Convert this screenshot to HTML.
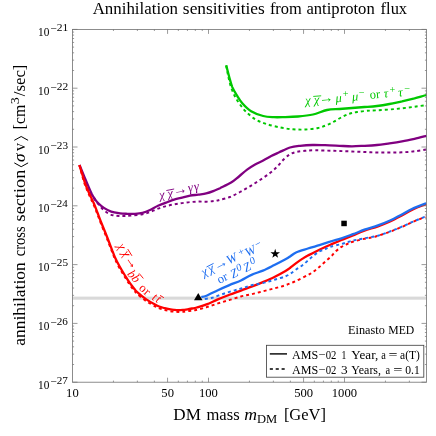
<!DOCTYPE html>
<html><head><meta charset="utf-8"><style>html,body{margin:0;padding:0;background:#fff}svg{display:block;will-change:transform}text{font-family:"Liberation Serif",serif;fill:#000}.i{font-style:italic}</style></head><body>
<svg width="436" height="436" viewBox="0 0 436 436">
<rect width="436" height="436" fill="#fff"/>
<rect x="72.5" y="296.6" width="354.0" height="3.1" fill="#d9d9d9"/>
<path d="M226.2 65.4C226.4 66.7 227.1 70.5 227.6 73.0C228.1 75.5 228.5 77.9 229.2 80.5C229.8 83.1 230.5 85.8 231.5 88.5C232.5 91.2 233.7 94.0 235.0 96.5C236.3 99.0 237.3 100.8 239.1 103.2C240.8 105.7 242.8 108.5 245.5 111.2C248.2 113.9 251.6 117.1 255.1 119.2C258.6 121.3 262.2 122.6 266.4 124.0C270.6 125.4 276.1 126.6 280.5 127.5C284.9 128.4 288.8 129.0 293.0 129.3C297.2 129.6 301.3 129.7 305.5 129.5C309.7 129.3 314.4 128.8 318.0 128.0C321.6 127.2 324.2 126.1 327.0 125.0C329.8 123.9 332.0 122.6 334.5 121.3C337.0 120.0 339.5 118.2 342.0 117.0C344.5 115.8 347.0 114.6 349.5 113.8C352.0 113.0 354.1 112.5 357.0 112.0C359.9 111.5 363.7 111.1 367.0 110.8C370.3 110.5 373.2 110.5 377.0 110.3C380.8 110.1 385.3 109.8 389.5 109.5C393.7 109.2 397.8 108.8 402.0 108.3C406.2 107.8 410.4 107.3 414.5 106.8C418.6 106.2 424.5 105.3 426.5 105.0" fill="none" stroke="#00c800" stroke-width="1.95" stroke-dasharray="3 3" stroke-dashoffset="0"/>
<path d="M226.2 65.4C226.5 66.5 227.4 69.9 228.0 72.2C228.6 74.5 229.1 76.6 229.8 79.1C230.5 81.6 231.2 84.4 232.3 87.1C233.5 89.8 235.0 92.4 236.7 95.1C238.4 97.8 239.9 100.5 242.3 103.2C244.7 105.9 247.6 109.1 251.1 111.2C254.6 113.3 259.4 115.0 263.2 116.0C267.0 117.0 270.4 117.0 274.0 117.2C277.6 117.4 281.0 117.2 285.0 117.1C289.0 117.0 293.3 116.9 298.0 116.5C302.7 116.1 308.2 115.6 313.0 114.5C317.8 113.4 322.6 110.9 327.0 110.0C331.4 109.1 335.3 109.3 339.5 109.0C343.7 108.7 347.8 108.3 352.0 108.0C356.2 107.7 360.3 107.3 364.5 107.0C368.7 106.7 372.8 106.5 377.0 106.0C381.2 105.5 385.3 104.8 389.5 104.0C393.7 103.2 397.8 102.2 402.0 101.3C406.2 100.3 410.4 99.3 414.5 98.3C418.6 97.2 424.5 95.5 426.5 95.0" fill="none" stroke="#00c800" stroke-width="2.3"/>
<path d="M79.5 165.0C80.4 167.6 83.2 176.0 85.0 180.5C86.8 185.0 88.3 188.5 90.0 191.8C91.7 195.1 93.6 197.9 95.1 200.1C96.6 202.2 97.6 203.2 98.8 204.7C100.0 206.2 101.0 207.6 102.5 209.0C104.0 210.4 105.8 211.9 107.5 213.0C109.2 214.1 111.1 214.8 113.0 215.3C114.9 215.8 117.0 215.9 119.0 216.0C121.0 216.1 122.8 216.1 125.0 216.0C127.2 215.9 129.6 215.8 132.5 215.5C135.4 215.2 139.6 214.9 142.5 214.3C145.4 213.7 147.4 213.1 150.0 212.1C152.6 211.1 155.3 209.6 158.0 208.6C160.7 207.6 163.4 206.8 166.1 206.1C168.8 205.4 171.4 204.9 174.1 204.4C176.8 203.9 179.4 203.5 182.1 203.1C184.8 202.7 187.4 202.3 190.1 202.1C192.8 201.8 195.5 201.7 198.2 201.6C200.9 201.5 203.5 201.8 206.2 201.7C208.9 201.6 211.9 201.3 214.2 201.0C216.5 200.7 217.4 200.5 220.0 199.8C222.6 199.1 226.7 198.3 230.0 197.0C233.3 195.7 236.7 193.8 240.0 192.0C243.3 190.2 246.7 188.3 250.0 186.3C253.3 184.3 256.7 182.2 260.0 180.0C263.3 177.8 267.1 175.3 270.0 173.0C272.9 170.7 275.2 168.6 277.5 166.3C279.8 164.0 281.7 161.3 283.8 159.3C285.9 157.3 287.9 155.5 290.0 154.3C292.1 153.1 293.8 152.6 296.3 152.0C298.8 151.4 301.9 151.1 305.0 150.8C308.1 150.5 311.2 150.3 315.0 150.3C318.8 150.3 323.4 150.5 327.5 150.6C331.6 150.7 335.4 150.8 339.5 151.0C343.6 151.2 347.8 151.3 352.0 151.5C356.2 151.7 360.3 151.8 364.5 152.0C368.7 152.2 372.8 152.4 377.0 152.5C381.2 152.6 385.3 152.5 389.5 152.5C393.7 152.5 397.8 152.5 402.0 152.3C406.2 152.1 410.4 151.8 414.5 151.3C418.6 150.8 424.5 149.8 426.5 149.5" fill="none" stroke="#800080" stroke-width="1.95" stroke-dasharray="3 3" stroke-dashoffset="0"/>
<path d="M79.5 165.0C80.2 166.7 82.2 171.7 83.6 175.0C85.0 178.3 86.4 181.8 87.8 185.0C89.2 188.2 90.8 191.9 91.9 194.2C93.1 196.5 93.6 197.3 94.7 198.8C95.8 200.3 96.8 201.8 98.3 203.3C99.8 204.8 101.8 206.5 103.9 207.9C106.1 209.3 108.5 210.7 111.2 211.6C113.9 212.5 117.3 212.9 120.0 213.3C122.7 213.7 125.0 213.7 127.5 213.8C130.0 213.9 132.5 214.0 135.0 213.8C137.5 213.6 140.0 213.4 142.5 212.8C145.0 212.2 147.4 211.2 150.0 210.0C152.6 208.8 155.3 207.0 158.0 205.8C160.7 204.6 163.4 203.6 166.1 202.6C168.8 201.6 171.4 200.5 174.1 199.7C176.8 198.9 179.4 198.3 182.1 197.6C184.8 196.9 187.4 196.2 190.1 195.7C192.8 195.2 195.5 195.0 198.2 194.6C200.9 194.2 203.5 194.1 206.2 193.4C208.9 192.8 211.9 191.6 214.2 190.7C216.5 189.8 217.2 189.5 220.0 188.2C222.8 186.8 227.9 184.5 231.1 182.6C234.3 180.7 236.3 178.7 239.0 176.5C241.7 174.3 244.4 171.7 247.1 169.7C249.8 167.7 252.4 166.0 255.1 164.5C257.8 163.0 260.5 161.9 263.2 160.5C265.9 159.1 268.5 157.4 271.2 156.0C273.9 154.6 276.1 153.7 279.2 152.3C282.3 150.9 286.5 148.6 290.0 147.5C293.5 146.4 296.2 146.2 300.0 145.8C303.8 145.4 308.3 145.1 312.5 145.0C316.7 144.9 320.5 145.1 325.0 145.2C329.5 145.3 335.0 145.6 339.5 145.8C344.0 146.0 347.8 146.3 352.0 146.3C356.2 146.3 360.3 146.0 364.5 145.8C368.7 145.6 372.8 145.4 377.0 145.0C381.2 144.6 385.3 143.9 389.5 143.3C393.7 142.7 397.8 142.1 402.0 141.3C406.2 140.6 410.4 139.7 414.5 138.8C418.6 137.9 424.5 136.3 426.5 135.8" fill="none" stroke="#800080" stroke-width="2.3"/>
<path d="M79.4 165.2C79.9 167.1 81.5 173.2 82.5 176.8C83.5 180.4 84.5 183.6 85.7 186.8C86.9 190.0 88.2 192.9 89.6 196.0C90.9 199.1 92.5 202.1 93.8 205.1C95.1 208.2 96.2 211.2 97.4 214.3C98.6 217.4 99.5 220.0 100.9 223.5C102.3 227.0 104.2 231.6 105.6 235.1C107.0 238.6 108.1 241.4 109.2 244.3C110.3 247.2 111.5 250.4 112.4 252.8C113.4 255.2 113.7 256.4 114.9 259.0C116.1 261.6 117.8 265.1 119.5 268.1C121.2 271.2 123.3 274.6 125.0 277.3C126.7 280.0 128.1 282.3 129.6 284.5C131.1 286.7 132.9 288.9 134.2 290.5C135.5 292.1 135.2 292.2 137.2 294.0C139.2 295.8 143.2 299.1 146.3 301.2C149.4 303.3 153.2 305.4 155.5 306.6C157.8 307.8 158.5 308.0 160.0 308.6C161.5 309.2 163.2 309.6 164.7 310.0C166.2 310.4 167.6 310.7 169.2 311.0C170.8 311.3 172.5 311.5 174.0 311.7C175.5 311.9 176.8 311.9 178.3 311.9C179.8 311.9 181.5 311.8 183.0 311.7C184.5 311.6 185.5 311.4 187.5 311.1C189.5 310.9 191.8 310.9 195.0 310.2C198.2 309.5 202.7 308.3 206.5 307.2C210.3 306.1 214.1 304.6 217.9 303.4C221.7 302.2 225.6 301.1 229.4 300.0C233.2 298.9 237.2 297.5 240.9 296.5C244.6 295.5 247.8 295.1 251.5 294.2C255.2 293.3 259.1 292.3 262.9 291.3C266.7 290.3 270.6 289.4 274.4 288.4C278.2 287.4 281.8 286.5 285.5 285.2C289.2 283.9 292.8 282.4 296.5 280.7C300.2 279.0 305.0 276.5 307.9 275.0C310.8 273.5 311.8 272.9 313.7 271.5C315.6 270.1 317.5 268.5 319.4 266.9C321.3 265.3 323.2 263.5 325.1 261.8C327.0 260.1 329.1 258.3 330.9 256.6C332.7 254.9 333.9 253.0 335.7 251.4C337.5 249.8 339.6 248.1 341.5 246.9C343.4 245.7 345.3 244.9 347.2 244.0C349.1 243.1 350.0 242.6 352.9 241.7C355.8 240.8 360.7 239.6 364.4 238.8C368.1 238.0 370.8 237.8 375.0 236.7C379.2 235.5 385.2 233.5 389.5 231.9C393.8 230.3 397.1 228.9 400.9 227.3C404.7 225.7 408.3 223.8 412.4 222.1C416.5 220.3 423.2 217.7 425.4 216.8" fill="none" stroke="#ff0000" stroke-width="1.95" stroke-dasharray="3 3" stroke-dashoffset="0"/>
<path d="M79.4 165.2C79.9 166.8 81.5 171.7 82.5 175.0C83.5 178.3 84.5 181.8 85.7 185.0C86.9 188.2 88.2 191.1 89.6 194.2C90.9 197.2 92.5 200.2 93.8 203.3C95.1 206.4 96.2 209.4 97.4 212.5C98.6 215.6 99.5 218.2 100.9 221.7C102.3 225.2 104.2 229.8 105.6 233.3C107.0 236.8 108.1 239.6 109.2 242.5C110.3 245.4 111.5 248.6 112.4 251.0C113.4 253.4 113.7 254.6 114.9 257.2C116.1 259.8 117.8 263.2 119.5 266.3C121.2 269.4 123.3 272.8 125.0 275.5C126.7 278.2 128.1 280.5 129.6 282.7C131.1 284.9 132.9 287.1 134.2 288.7C135.5 290.3 135.2 290.4 137.2 292.2C139.2 294.0 143.2 297.3 146.3 299.4C149.4 301.5 153.2 303.6 155.5 304.8C157.8 306.0 158.5 306.2 160.0 306.8C161.5 307.4 163.2 307.8 164.7 308.2C166.2 308.6 167.6 308.9 169.2 309.2C170.8 309.5 172.5 309.8 174.0 309.9C175.5 310.0 176.8 310.1 178.3 310.1C179.8 310.1 181.5 310.0 183.0 309.9C184.5 309.8 186.0 309.5 187.5 309.3C189.0 309.1 190.5 308.8 192.0 308.5C193.5 308.2 194.3 308.2 196.7 307.5C199.1 306.8 203.0 305.8 206.5 304.4C210.0 303.0 214.1 301.0 217.9 299.4C221.7 297.8 225.6 296.3 229.4 294.8C233.2 293.3 237.2 292.0 240.9 290.6C244.6 289.2 247.8 288.1 251.5 286.7C255.2 285.3 259.1 283.7 262.9 282.1C266.7 280.5 270.6 278.9 274.4 277.0C278.2 275.1 282.9 272.5 285.5 271.0C288.1 269.5 288.2 269.4 290.0 268.0C291.8 266.6 294.5 264.4 296.5 262.9C298.5 261.4 300.3 260.1 302.2 258.9C304.1 257.7 305.0 257.0 307.9 255.5C310.8 254.0 315.6 251.5 319.4 249.7C323.2 247.9 327.2 246.1 330.9 244.5C334.6 242.9 337.8 241.5 341.5 240.0C345.2 238.5 349.1 237.0 352.9 235.4C356.7 233.8 360.2 232.1 364.4 230.6C368.6 229.1 373.8 227.8 378.0 226.3C382.2 224.8 385.7 223.4 389.5 221.7C393.3 220.0 397.1 218.0 400.9 216.0C404.7 214.0 408.2 211.7 412.4 209.7C416.6 207.7 423.9 205.0 426.2 204.1" fill="none" stroke="#ff0000" stroke-width="2.3"/>
<path d="M201.9 299.4C203.6 299.1 208.6 298.6 212.2 297.7C215.8 296.8 219.9 294.9 223.7 293.7C227.5 292.4 231.9 291.1 235.1 290.2C238.3 289.2 240.3 288.8 243.0 288.0C245.7 287.2 248.2 286.0 251.5 285.2C254.8 284.4 259.1 284.0 262.9 283.1C266.7 282.2 270.6 280.9 274.4 279.8C278.2 278.7 282.8 277.4 285.5 276.3C288.2 275.2 288.9 274.7 290.7 273.5C292.5 272.3 294.6 270.5 296.5 269.2C298.4 267.9 300.3 266.9 302.2 265.5C304.1 264.1 306.0 262.3 307.9 260.6C309.8 258.9 311.8 257.0 313.7 255.5C315.6 254.0 317.5 252.6 319.4 251.5C321.3 250.4 323.3 250.0 325.1 249.2C326.9 248.4 327.3 247.8 330.0 246.9C332.7 246.0 337.7 245.1 341.5 244.0C345.3 242.9 349.1 241.5 352.9 240.6C356.7 239.7 360.2 239.1 364.4 238.3C368.6 237.5 373.8 236.8 378.0 235.7C382.2 234.6 385.7 233.1 389.5 231.7C393.3 230.3 397.1 228.7 400.9 227.1C404.7 225.5 408.3 223.7 412.4 221.9C416.5 220.2 423.2 217.5 425.4 216.6" fill="none" stroke="#1e6ef0" stroke-width="1.95" stroke-dasharray="3 3" stroke-dashoffset="3"/>
<path d="M201.3 297.1C202.2 296.9 203.7 296.9 206.5 295.7C209.3 294.5 214.1 292.0 217.9 290.2C221.7 288.4 225.6 286.7 229.4 285.1C233.2 283.5 237.2 282.2 240.9 280.5C244.6 278.8 247.8 276.5 251.5 274.9C255.2 273.2 259.1 272.2 262.9 270.6C266.7 269.0 270.6 266.9 274.4 265.0C278.2 263.1 282.9 260.6 285.5 259.2C288.1 257.8 288.2 257.7 290.0 256.5C291.8 255.3 293.5 253.5 296.5 252.2C299.5 250.9 304.1 249.7 307.9 248.5C311.7 247.3 315.7 246.3 319.4 245.2C323.1 244.1 326.3 242.8 330.0 241.7C333.7 240.5 337.7 239.6 341.5 238.3C345.3 237.1 349.1 235.6 352.9 234.2C356.7 232.8 360.2 231.2 364.4 229.7C368.6 228.2 373.8 226.9 378.0 225.4C382.2 223.9 385.7 222.5 389.5 220.8C393.3 219.1 397.1 217.1 400.9 215.1C404.7 213.1 408.2 210.8 412.4 208.8C416.6 206.8 423.9 204.2 426.2 203.3" fill="none" stroke="#1e6ef0" stroke-width="2.3"/>
<polygon points="194,300.3 202.5,300.3 198.25,293.1" fill="#000"/>
<rect x="341.3" y="220.7" width="5.5" height="5.5" fill="#000"/>
<polygon points="275.2,248.8 276.3,252.2 280.0,252.3 277.1,254.4 278.1,257.8 275.2,255.8 272.3,257.8 273.3,254.4 270.4,252.3 274.1,252.2" fill="#000"/>
<path d="M72.5 382.20h5M426.5 382.20h-5M72.5 364.50h1.6M426.5 364.50h-1.6M72.5 354.15h1.6M426.5 354.15h-1.6M72.5 346.80h1.6M426.5 346.80h-1.6M72.5 341.10h1.6M426.5 341.10h-1.6M72.5 336.44h1.6M426.5 336.44h-1.6M72.5 332.51h1.6M426.5 332.51h-1.6M72.5 329.10h1.6M426.5 329.10h-1.6M72.5 326.09h1.6M426.5 326.09h-1.6M72.5 323.40h5M426.5 323.40h-5M72.5 305.70h1.6M426.5 305.70h-1.6M72.5 295.35h1.6M426.5 295.35h-1.6M72.5 288.00h1.6M426.5 288.00h-1.6M72.5 282.30h1.6M426.5 282.30h-1.6M72.5 277.64h1.6M426.5 277.64h-1.6M72.5 273.71h1.6M426.5 273.71h-1.6M72.5 270.30h1.6M426.5 270.30h-1.6M72.5 267.29h1.6M426.5 267.29h-1.6M72.5 264.60h5M426.5 264.60h-5M72.5 246.90h1.6M426.5 246.90h-1.6M72.5 236.55h1.6M426.5 236.55h-1.6M72.5 229.20h1.6M426.5 229.20h-1.6M72.5 223.50h1.6M426.5 223.50h-1.6M72.5 218.84h1.6M426.5 218.84h-1.6M72.5 214.91h1.6M426.5 214.91h-1.6M72.5 211.50h1.6M426.5 211.50h-1.6M72.5 208.49h1.6M426.5 208.49h-1.6M72.5 205.80h5M426.5 205.80h-5M72.5 188.10h1.6M426.5 188.10h-1.6M72.5 177.75h1.6M426.5 177.75h-1.6M72.5 170.40h1.6M426.5 170.40h-1.6M72.5 164.70h1.6M426.5 164.70h-1.6M72.5 160.04h1.6M426.5 160.04h-1.6M72.5 156.11h1.6M426.5 156.11h-1.6M72.5 152.70h1.6M426.5 152.70h-1.6M72.5 149.69h1.6M426.5 149.69h-1.6M72.5 147.00h5M426.5 147.00h-5M72.5 129.30h1.6M426.5 129.30h-1.6M72.5 118.95h1.6M426.5 118.95h-1.6M72.5 111.60h1.6M426.5 111.60h-1.6M72.5 105.90h1.6M426.5 105.90h-1.6M72.5 101.24h1.6M426.5 101.24h-1.6M72.5 97.31h1.6M426.5 97.31h-1.6M72.5 93.90h1.6M426.5 93.90h-1.6M72.5 90.89h1.6M426.5 90.89h-1.6M72.5 88.20h5M426.5 88.20h-5M72.5 70.50h1.6M426.5 70.50h-1.6M72.5 60.15h1.6M426.5 60.15h-1.6M72.5 52.80h1.6M426.5 52.80h-1.6M72.5 47.10h1.6M426.5 47.10h-1.6M72.5 42.44h1.6M426.5 42.44h-1.6M72.5 38.51h1.6M426.5 38.51h-1.6M72.5 35.10h1.6M426.5 35.10h-1.6M72.5 32.09h1.6M426.5 32.09h-1.6M72.5 29.40h5M426.5 29.40h-5M167.56 382.2v-4.5M167.56 29.4v4.5M208.50 382.2v-4.5M208.50 29.4v4.5M303.56 382.2v-4.5M303.56 29.4v4.5M344.50 382.2v-4.5M344.50 29.4v4.5M113.44 382.2v-1.6M113.44 29.4v1.6M137.39 382.2v-1.6M137.39 29.4v1.6M154.38 382.2v-1.6M154.38 29.4v1.6M178.33 382.2v-1.6M178.33 29.4v1.6M187.43 382.2v-1.6M187.43 29.4v1.6M195.32 382.2v-1.6M195.32 29.4v1.6M202.28 382.2v-1.6M202.28 29.4v1.6M249.44 382.2v-1.6M249.44 29.4v1.6M273.39 382.2v-1.6M273.39 29.4v1.6M290.38 382.2v-1.6M290.38 29.4v1.6M314.33 382.2v-1.6M314.33 29.4v1.6M323.43 382.2v-1.6M323.43 29.4v1.6M331.32 382.2v-1.6M331.32 29.4v1.6M338.28 382.2v-1.6M338.28 29.4v1.6M385.44 382.2v-1.6M385.44 29.4v1.6M409.39 382.2v-1.6M409.39 29.4v1.6" stroke="#707070" stroke-width="0.7" fill="none"/>
<rect x="72.5" y="29.4" width="354.0" height="352.8" fill="none" stroke="#707070" stroke-width="0.8"/>
<text x="38.00" y="388.80" font-size="12.4" textLength="11.33" lengthAdjust="spacingAndGlyphs">10</text>
<text x="50.33" y="384.50" font-size="10.8" textLength="6.42" lengthAdjust="spacingAndGlyphs">−</text>
<text x="56.81" y="383.80" font-size="10.8" textLength="11.11" lengthAdjust="spacingAndGlyphs">27</text>
<text x="38.00" y="330.00" font-size="12.4" textLength="11.33" lengthAdjust="spacingAndGlyphs">10</text>
<text x="50.33" y="325.70" font-size="10.8" textLength="6.42" lengthAdjust="spacingAndGlyphs">−</text>
<text x="56.81" y="325.00" font-size="10.8" textLength="11.12" lengthAdjust="spacingAndGlyphs">26</text>
<text x="38.00" y="271.20" font-size="12.4" textLength="11.33" lengthAdjust="spacingAndGlyphs">10</text>
<text x="50.33" y="266.90" font-size="10.8" textLength="6.42" lengthAdjust="spacingAndGlyphs">−</text>
<text x="56.81" y="266.20" font-size="10.8" textLength="11.23" lengthAdjust="spacingAndGlyphs">25</text>
<text x="38.00" y="212.40" font-size="12.4" textLength="11.33" lengthAdjust="spacingAndGlyphs">10</text>
<text x="50.33" y="208.10" font-size="10.8" textLength="6.42" lengthAdjust="spacingAndGlyphs">−</text>
<text x="56.82" y="207.40" font-size="10.8" textLength="10.95" lengthAdjust="spacingAndGlyphs">24</text>
<text x="38.00" y="153.60" font-size="12.4" textLength="11.33" lengthAdjust="spacingAndGlyphs">10</text>
<text x="50.33" y="149.30" font-size="10.8" textLength="6.42" lengthAdjust="spacingAndGlyphs">−</text>
<text x="56.81" y="148.60" font-size="10.8" textLength="11.23" lengthAdjust="spacingAndGlyphs">23</text>
<text x="38.00" y="94.80" font-size="12.4" textLength="11.33" lengthAdjust="spacingAndGlyphs">10</text>
<text x="50.33" y="90.50" font-size="10.8" textLength="6.42" lengthAdjust="spacingAndGlyphs">−</text>
<text x="56.80" y="89.80" font-size="10.8" textLength="11.43" lengthAdjust="spacingAndGlyphs">22</text>
<text x="38.00" y="36.00" font-size="12.4" textLength="11.33" lengthAdjust="spacingAndGlyphs">10</text>
<text x="50.33" y="31.70" font-size="10.8" textLength="6.42" lengthAdjust="spacingAndGlyphs">−</text>
<text x="56.79" y="31.00" font-size="10.8" textLength="11.50" lengthAdjust="spacingAndGlyphs">21</text>
<text x="66.09" y="396.80" font-size="12.6" textLength="12.60" lengthAdjust="spacingAndGlyphs">10</text>
<text x="161.33" y="396.80" font-size="12.6" textLength="12.60" lengthAdjust="spacingAndGlyphs">50</text>
<text x="198.94" y="396.80" font-size="12.6" textLength="18.90" lengthAdjust="spacingAndGlyphs">100</text>
<text x="294.18" y="396.80" font-size="12.6" textLength="18.90" lengthAdjust="spacingAndGlyphs">500</text>
<text x="331.79" y="396.80" font-size="12.6" textLength="25.20" lengthAdjust="spacingAndGlyphs">1000</text>
<text x="92.63" y="13.60" font-size="17" textLength="85.42" lengthAdjust="spacingAndGlyphs">Annihilation</text>
<text x="182.89" y="13.60" font-size="17" textLength="81.94" lengthAdjust="spacingAndGlyphs">sensitivities</text>
<text x="269.89" y="13.60" font-size="17" textLength="31.96" lengthAdjust="spacingAndGlyphs">from</text>
<text x="306.42" y="13.60" font-size="17" textLength="68.34" lengthAdjust="spacingAndGlyphs">antiproton</text>
<text x="380.59" y="13.60" font-size="17" textLength="26.51" lengthAdjust="spacingAndGlyphs">flux</text>
<text x="173.31" y="419.60" font-size="17" textLength="27.60" lengthAdjust="spacingAndGlyphs">DM</text>
<text x="206.45" y="419.60" font-size="17" textLength="33.15" lengthAdjust="spacingAndGlyphs">mass</text>
<text x="244.26" y="419.60" font-size="17" textLength="12.78" lengthAdjust="spacingAndGlyphs" class="i">m</text>
<text x="257.04" y="422.80" font-size="12" textLength="20.23" lengthAdjust="spacingAndGlyphs">DM</text>
<text x="283.88" y="419.60" font-size="17" textLength="42.15" lengthAdjust="spacingAndGlyphs">[GeV]</text>
<text transform="translate(25.40,345.82) rotate(-90)" font-size="17" textLength="83.68" lengthAdjust="spacingAndGlyphs">annihilation</text>
<text transform="translate(25.40,256.15) rotate(-90)" font-size="17" textLength="29.67" lengthAdjust="spacingAndGlyphs">cross</text>
<text transform="translate(25.40,221.45) rotate(-90)" font-size="17" textLength="51.73" lengthAdjust="spacingAndGlyphs">section</text>
<path d="M14.3 162.9L21.2 166.7L28.1 162.9M14.3 140.3L21.2 136.5L28.1 140.3" fill="none" stroke="#000" stroke-width="1"/>
<text transform="translate(25.40,162.01) rotate(-90)" font-size="17" textLength="8.47" lengthAdjust="spacingAndGlyphs" class="i">σ</text>
<text transform="translate(25.40,151.00) rotate(-90)" font-size="17" textLength="8.00" lengthAdjust="spacingAndGlyphs">v</text>
<text transform="translate(25.40,129.38) rotate(-90)" font-size="17" textLength="24.62" lengthAdjust="spacingAndGlyphs">[cm</text>
<text transform="translate(18.90,104.27) rotate(-90)" font-size="12" textLength="7.02" lengthAdjust="spacingAndGlyphs">3</text>
<text transform="translate(25.40,96.20) rotate(-90)" font-size="17" textLength="31.64" lengthAdjust="spacingAndGlyphs">/sec]</text>
<text x="348.05" y="334.10" font-size="12.2" textLength="36.72" lengthAdjust="spacingAndGlyphs">Einasto</text>
<text x="388.26" y="334.10" font-size="12.2" textLength="26.01" lengthAdjust="spacingAndGlyphs">MED</text>
<rect x="266.5" y="345.3" width="157.3" height="31.9" fill="#fff" stroke="#444" stroke-width="0.85"/>
<path d="M269.8 353.9H287" stroke="#000" stroke-width="1.4"/>
<path d="M269.8 368.9H287" stroke="#000" stroke-width="1.5" stroke-dasharray="3.1 2.8"/>
<text x="291.88" y="358.80" font-size="12.2" textLength="26.27" lengthAdjust="spacingAndGlyphs">AMS</text>
<text x="318.78" y="358.80" font-size="12.2" textLength="7.03" lengthAdjust="spacingAndGlyphs">−</text>
<text x="325.69" y="358.80" font-size="12.2" textLength="10.70" lengthAdjust="spacingAndGlyphs">02</text>
<text x="341.45" y="358.80" font-size="12.2" textLength="4.83" lengthAdjust="spacingAndGlyphs">1</text>
<text x="351.36" y="358.80" font-size="12.2" textLength="26.91" lengthAdjust="spacingAndGlyphs">Year,</text>
<text x="381.24" y="358.80" font-size="12.2" textLength="4.61" lengthAdjust="spacingAndGlyphs">a</text>
<text x="388.61" y="358.80" font-size="12.2" textLength="8.97" lengthAdjust="spacingAndGlyphs">=</text>
<text x="400.10" y="358.80" font-size="12.2" textLength="19.81" lengthAdjust="spacingAndGlyphs">a(T)</text>
<text x="291.88" y="373.80" font-size="12.2" textLength="26.27" lengthAdjust="spacingAndGlyphs">AMS</text>
<text x="318.78" y="373.80" font-size="12.2" textLength="7.03" lengthAdjust="spacingAndGlyphs">−</text>
<text x="325.69" y="373.80" font-size="12.2" textLength="10.70" lengthAdjust="spacingAndGlyphs">02</text>
<text x="341.06" y="373.80" font-size="12.2" textLength="6.66" lengthAdjust="spacingAndGlyphs">3</text>
<text x="351.37" y="373.80" font-size="12.2" textLength="29.65" lengthAdjust="spacingAndGlyphs">Years,</text>
<text x="385.44" y="373.80" font-size="12.2" textLength="4.61" lengthAdjust="spacingAndGlyphs">a</text>
<text x="393.19" y="373.80" font-size="12.2" textLength="9.21" lengthAdjust="spacingAndGlyphs">=</text>
<text x="405.16" y="373.80" font-size="12.2" textLength="14.54" lengthAdjust="spacingAndGlyphs">0.1</text>
<g transform="translate(307.80,102.70) rotate(-4.6)"><text x="-2.38" y="1.54" font-size="12.5" style="fill:#00c800" class="i">χ</text></g>
<g transform="translate(316.50,102.00) rotate(-4.6)"><text x="-2.38" y="1.54" font-size="12.5" style="fill:#00c800" class="i">χ</text><path d="M-2.78 -5.80H5.18" stroke="#00c800" stroke-width="0.85"/></g>
<g transform="translate(326.40,100.10) rotate(-4.6)"><text x="-7.25" y="2.41" font-size="14.5" style="fill:#00c800">→</text></g>
<g transform="translate(338.60,100.40) rotate(-4.6)"><text x="-2.92" y="1.53" font-size="12.5" style="fill:#00c800" class="i">μ</text></g>
<g transform="translate(345.60,93.60) rotate(-4.6)"><text x="-2.91" y="3.42" font-size="10.3" style="fill:#00c800">+</text></g>
<g transform="translate(354.90,99.00) rotate(-4.6)"><text x="-2.92" y="1.53" font-size="12.5" style="fill:#00c800" class="i">μ</text></g>
<g transform="translate(361.50,92.60) rotate(-4.6)"><text x="-2.91" y="3.42" font-size="10.3" style="fill:#00c800">−</text></g>
<g transform="translate(375.20,95.40) rotate(-4.6)"><text x="-5.39" y="2.88" font-size="12.5" style="fill:#00c800">or</text></g>
<g transform="translate(386.40,94.50) rotate(-4.6)"><text x="-2.56" y="2.81" font-size="12.5" style="fill:#00c800" class="i">τ</text></g>
<g transform="translate(392.30,89.30) rotate(-4.6)"><text x="-2.91" y="3.42" font-size="10.3" style="fill:#00c800">+</text></g>
<g transform="translate(400.70,93.50) rotate(-4.6)"><text x="-2.56" y="2.81" font-size="12.5" style="fill:#00c800" class="i">τ</text></g>
<g transform="translate(407.00,88.60) rotate(-4.6)"><text x="-2.91" y="3.42" font-size="10.3" style="fill:#00c800">−</text></g>
<g transform="translate(162.10,197.20) rotate(-11.3)"><text x="-2.38" y="1.54" font-size="12.5" style="fill:#800080" class="i">χ</text></g>
<g transform="translate(170.20,195.70) rotate(-11.3)"><text x="-2.38" y="1.54" font-size="12.5" style="fill:#800080" class="i">χ</text><path d="M-2.78 -5.80H5.18" stroke="#800080" stroke-width="0.85"/></g>
<g transform="translate(180.50,191.70) rotate(-11.3)"><text x="-7.25" y="2.41" font-size="14.5" style="fill:#800080">→</text></g>
<g transform="translate(191.00,190.00) rotate(-11.3)"><text x="-2.71" y="1.54" font-size="12.5" style="fill:#800080" class="i">γ</text></g>
<g transform="translate(197.20,188.80) rotate(-11.3)"><text x="-2.71" y="1.54" font-size="12.5" style="fill:#800080" class="i">γ</text></g>
<g transform="translate(119.60,247.20) rotate(60.0)"><text x="-2.38" y="1.54" font-size="12.5" style="fill:#ff0000" class="i">χ</text></g>
<g transform="translate(124.30,254.50) rotate(58.0)"><text x="-2.38" y="1.54" font-size="12.5" style="fill:#ff0000" class="i">χ</text><path d="M-2.78 -5.80H5.18" stroke="#ff0000" stroke-width="0.85"/></g>
<g transform="translate(130.40,263.40) rotate(55.0)"><text x="-7.25" y="2.41" font-size="14.5" style="fill:#ff0000">→</text></g>
<g transform="translate(132.00,274.00) rotate(50.0)"><text x="-3.17" y="4.28" font-size="12.5" style="fill:#ff0000" class="i">b</text></g>
<g transform="translate(136.40,278.40) rotate(50.0)"><text x="-3.17" y="4.28" font-size="12.5" style="fill:#ff0000" class="i">b</text><path d="M-2.10 -5.30H4.50" stroke="#ff0000" stroke-width="0.85"/></g>
<g transform="translate(142.40,288.90) rotate(41.0)"><text x="-3.12" y="2.88" font-size="12.5" style="fill:#ff0000">o</text></g>
<g transform="translate(146.70,292.80) rotate(41.0)"><text x="-2.15" y="2.94" font-size="12.5" style="fill:#ff0000">r</text></g>
<g transform="translate(155.00,297.40) rotate(32.0)"><text x="-2.14" y="3.46" font-size="12.5" style="fill:#ff0000" class="i">t</text></g>
<g transform="translate(158.60,299.70) rotate(32.0)"><text x="-2.14" y="3.46" font-size="12.5" style="fill:#ff0000" class="i">t</text><path d="M-0.99 -4.48H3.39" stroke="#ff0000" stroke-width="0.85"/></g>
<g transform="translate(205.20,274.10) rotate(-27.0)"><text x="-2.38" y="1.54" font-size="12.5" style="fill:#1e6ef0" class="i">χ</text></g>
<g transform="translate(211.60,270.90) rotate(-27.0)"><text x="-2.38" y="1.54" font-size="12.5" style="fill:#1e6ef0" class="i">χ</text><path d="M-2.78 -5.80H5.18" stroke="#1e6ef0" stroke-width="0.85"/></g>
<g transform="translate(221.30,265.60) rotate(-27.0)"><text x="-7.25" y="2.41" font-size="14.5" style="fill:#1e6ef0">→</text></g>
<g transform="translate(232.50,258.10) rotate(-27.0)"><text x="-6.09" y="4.00" font-size="12.5" style="fill:#1e6ef0" class="i">W</text></g>
<g transform="translate(241.00,251.60) rotate(-27.0)"><text x="-2.91" y="3.42" font-size="10.3" style="fill:#1e6ef0">+</text></g>
<g transform="translate(251.00,250.80) rotate(-27.0)"><text x="-6.09" y="4.00" font-size="12.5" style="fill:#1e6ef0" class="i">W</text></g>
<g transform="translate(257.70,243.60) rotate(-27.0)"><text x="-2.91" y="3.42" font-size="10.3" style="fill:#1e6ef0">−</text></g>
<g transform="translate(222.90,278.90) rotate(-27.0)"><text x="-5.39" y="2.88" font-size="12.5" style="fill:#1e6ef0">or</text></g>
<g transform="translate(234.10,273.30) rotate(-27.0)"><text x="-3.60" y="4.09" font-size="12.5" style="fill:#1e6ef0" class="i">Z</text></g>
<g transform="translate(238.90,267.20) rotate(-27.0)"><text x="-2.71" y="3.37" font-size="10.3" style="fill:#1e6ef0" class="i">0</text></g>
<g transform="translate(247.00,266.90) rotate(-27.0)"><text x="-3.60" y="4.09" font-size="12.5" style="fill:#1e6ef0" class="i">Z</text></g>
<g transform="translate(252.30,260.50) rotate(-27.0)"><text x="-2.71" y="3.37" font-size="10.3" style="fill:#1e6ef0" class="i">0</text></g>
</svg></body></html>
